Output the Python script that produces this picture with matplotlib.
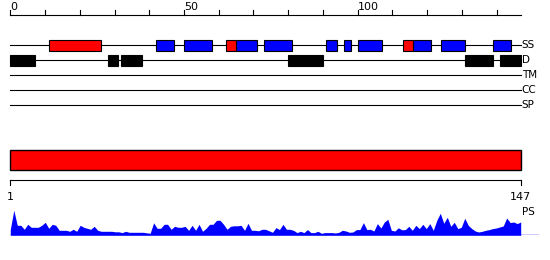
import matplotlib
matplotlib.use('Agg')
import matplotlib.pyplot as plt

# sequence features (start, end) in residue positions
seq_len = 147
ss_red = [(11, 26), (62, 65), (113, 116)]
ss_blue = [(42, 47), (50, 58), (65, 71), (73, 81), (91, 94), (96, 98),
           (100, 107), (116, 121), (124, 131), (139, 144)]
disorder = [(0, 7), (28, 31), (32, 38), (80, 90), (131, 139), (141, 147)]
track_names = ['SS', 'D', 'TM', 'CC', 'SP']
top_ticks = list(range(0, 141, 10))
top_labels = [0, 50, 100]

# PS profile, one value per residue 1..147
ps = [6, 25, 10, 10, 6, 11, 8, 8, 8, 10, 13, 7, 11, 10, 5, 5, 5, 4, 6, 4,
      10, 8, 7, 6, 9, 5, 4, 4, 4, 4, 3.5, 3.5, 2.7, 4, 3, 3, 3, 3, 3, 2.5,
      2, 12.5, 7, 7, 11, 11, 6, 9, 8, 8, 9, 5, 10, 5, 11, 4, 7, 11, 11, 15,
      15, 11, 6, 9, 9.5, 9.5, 10, 5, 12, 5, 5, 4.5, 6, 6, 4.5, 3, 7.7, 5.7, 11, 6,
      6, 5, 2.7, 4, 2.7, 5.7, 2.7, 2.7, 4, 2, 2.7, 2.7, 2.7, 2.3, 3, 5, 4.3, 3, 3.3, 5.7,
      5.7, 12.7, 5.7, 6, 4.3, 11.7, 7.3, 13.3, 16, 5, 4.3, 7.5, 5.5, 5.7, 9, 5, 10, 6.7, 11, 6.7,
      11.7, 5, 15, 22, 12, 18, 9, 13, 6.7, 8, 17, 10, 6.7, 4.3, 3.3, 4, 5, 5.7, 6.7, 7.3,
      8.3, 9.3, 17.3, 12.7, 13.3, 11.7, 13.3]
residues = list(range(1, seq_len + 1))

W, H = 550, 260
fig = plt.figure(figsize=(W / 100, H / 100), dpi=100)

# pixel -> data helpers
x0 = 10.3
top_scale = (521.0 - x0) / seq_len
bot_scale = (520.7 - x0) / (seq_len - 1)

ax = fig.add_axes([0, 0, 1, 1])
ax.set_xlim(-x0 / top_scale, (W - x0) / top_scale)
ax.set_ylim(H, 0)
ax.axis('off')

lw = 0.8
# top ruler
ax.plot([0, seq_len], [15, 15], color='black', lw=lw)
for t in top_ticks:
    ax.plot([t, t], [10, 15], color='black', lw=lw)
for t in top_labels:
    ax.text(t, 10.5, str(t), ha='left', va='baseline', fontsize=8)

track_y = [45.3, 60.3, 75.3, 90.3, 105.3]
for name, y in zip(track_names, track_y):
    ax.plot([0, seq_len], [y, y], color='black', lw=lw, zorder=1)
    ax.text(seq_len + 0.2, y, name, ha='left', va='center', fontsize=7.5)

for s, e in ss_blue:
    ax.add_patch(matplotlib.patches.Rectangle((s, 40.3), e - s, 10.4,
                 facecolor='#0000ff', edgecolor='black', lw=lw, zorder=2))
for s, e in ss_red:
    ax.add_patch(matplotlib.patches.Rectangle((s, 40.3), e - s, 10.4,
                 facecolor='#ff0000', edgecolor='black', lw=lw, zorder=3))
for s, e in disorder:
    ax.add_patch(matplotlib.patches.Rectangle((s, 55), e - s, 10.7,
                 facecolor='black', edgecolor='black', lw=lw, zorder=2))

# lower part, residue coordinates 1..147
ax2 = fig.add_axes([0, 0, 1, 1])
ax2.set_xlim(1 - x0 / bot_scale, 1 + (W - x0) / bot_scale)
ax2.set_ylim(H, 0)
ax2.axis('off')

ax2.add_patch(matplotlib.patches.Rectangle((1, 150.3), seq_len - 1, 20,
              facecolor='#ff0000', edgecolor='black', lw=1.0))
ax2.plot([1, seq_len], [180.3, 180.3], color='black', lw=lw)
for t in [1, seq_len]:
    ax2.plot([t, t], [180.3, 185], color='black', lw=lw)
    ax2.text(t, 200, str(t), ha='center', va='baseline', fontsize=8)
ax2.text(seq_len + 0.3, 215, 'PS', ha='left', va='baseline', fontsize=7.5)

# PS profile
base = 235.3
ax3 = fig.add_axes([0, (H - base) / H, 1, 30 / H])
ax3.set_xlim(1 - x0 / bot_scale, 1 + (W - x0) / bot_scale)
ax3.set_ylim(0, 30)
ax3.axis('off')
ax3.fill_between(residues, 0, ps, color='#0000ff', lw=0)
ax3.plot([1, 1 + (537.7 - x0) / bot_scale], [0, 0], color='#0000ff', lw=1.0)

fig.savefig('out.png', dpi=100)
